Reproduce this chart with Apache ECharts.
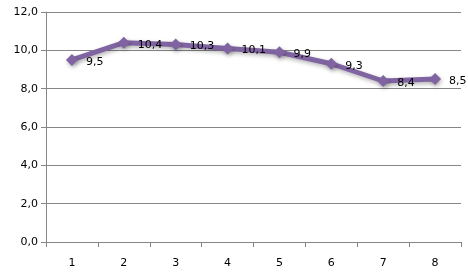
<!DOCTYPE html>
<html>
<head>
<meta charset="utf-8">
<script src="https://cdn.jsdelivr.net/npm/echarts@6/dist/echarts.min.js"></script>
<style>
  html, body { margin: 0; padding: 0; background: #fff; }
  #chart { width: 468px; height: 278px; }
</style>
</head>
<body>
<div id="chart"></div>
<script>
  // categories along the x axis
  const categories = ["1", "2", "3", "4", "5", "6", "7", "8"];
  // series values
  const values = [9.5, 10.4, 10.3, 10.1, 9.9, 9.3, 8.4, 8.5];

  const COL_LINE = "#8064A2";
  const FONT = "Tahoma, 'DejaVu Sans', sans-serif";

  const fmt = (v) => v.toFixed(1).replace(".", ",");

  const chart = echarts.init(document.getElementById("chart"), null, { renderer: "canvas" });

  chart.setOption({
    animation: false,
    backgroundColor: "#fff",
    grid: { left: 46, right: 7, top: 12, bottom: 36, containLabel: false },
    xAxis: {
      type: "category",
      data: categories,
      boundaryGap: true,
      axisLine: { lineStyle: { color: "#868686", width: 1 } },
      axisTick: { show: true, length: 5, interval: 0, alignWithLabel: false, lineStyle: { color: "#868686" } },
      axisLabel: { color: "#000", fontFamily: FONT, fontSize: 11, margin: 16 }
    },
    yAxis: {
      type: "value",
      min: 0,
      max: 12,
      interval: 2,
      axisLine: { show: true, lineStyle: { color: "#868686", width: 1 } },
      axisTick: { show: true, length: 5, lineStyle: { color: "#868686" } },
      axisLabel: { color: "#000", fontFamily: FONT, fontSize: 11, margin: 8, formatter: fmt },
      splitLine: { show: true, lineStyle: { color: "#868686", width: 1 } }
    },
    series: [{
      type: "line",
      data: values,
      symbol: "diamond",
      symbolSize: 12,
      lineStyle: {
        color: COL_LINE, width: 5,
        shadowColor: "rgba(0,0,0,0.3)", shadowBlur: 4, shadowOffsetX: 1, shadowOffsetY: 2
      },
      itemStyle: {
        color: COL_LINE,
        shadowColor: "rgba(0,0,0,0.3)", shadowBlur: 4, shadowOffsetX: 1, shadowOffsetY: 2
      },
      label: {
        show: true,
        position: "right",
        distance: 8,
        offset: [0, 2],
        color: "#000",
        fontFamily: FONT,
        fontSize: 11,
        formatter: (p) => fmt(p.value)
      }
    }]
  });
</script>
</body>
</html>
